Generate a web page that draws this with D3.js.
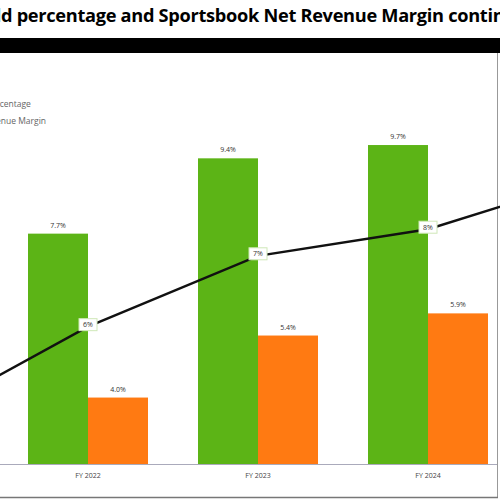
<!DOCTYPE html>
<html><head><meta charset="utf-8">
<script src="https://cdn.jsdelivr.net/npm/d3@7"></script>
<style>body{margin:0;background:#fff}svg{display:block}</style>
</head><body>
<svg id="c" width="500" height="500"></svg>
<script>
const title = "Sportsbook Hold percentage and Sportsbook Net Revenue Margin continue to improve";
const titleCut = "Sportsbook Hol";
const titleVisible = "d percentage and Sportsbook Net Revenue Margin continu";
const allCategories = ["FY 2021", "FY 2022", "FY 2023", "FY 2024", "FY 2025"];
const barCategories = ["FY 2022", "FY 2023", "FY 2024"];
const holdPct = [7.7, 9.4, 9.7];
const netRevMargin = [4.0, 5.4, 5.9];
const lineValues = [3.5, 5.6, 7.2, 7.8, 9.0];
const lineLabels = ["", "6%", "7%", "8%", ""];
const legendLabels = ["Sportsbook Hold percentage", "Sportsbook Net Revenue Margin"];

const svg = d3.select("#c");
const W = 500, H = 500;

function measure(txt, size) {
  const m = svg.append("text").attr("font-family", "Open Sans").attr("font-weight", "bold")
    .attr("font-size", size).attr("letter-spacing", -0.3).text(txt);
  const w = m.node().getComputedTextLength(); m.remove(); return w;
}
// title: scale so that the visible part spans the width, as in the reference crop
const tfs = 10 * 502 / measure(titleVisible, 10);
const cutW = measure(titleCut, tfs);
svg.append("text").attr("x", 1 - cutW).attr("y", 22)
  .attr("font-family", "Open Sans").attr("font-weight", "bold").attr("font-size", tfs)
  .attr("fill", "#000").attr("letter-spacing", -0.3).text(title);

svg.append("rect").attr("x", 0).attr("y", 38).attr("width", W).attr("height", 15).attr("fill", "#000");

// frame
svg.append("line").attr("x1", 497.5).attr("x2", 497.5).attr("y1", 53).attr("y2", 497).attr("stroke", "#999");
svg.append("line").attr("x1", 0).attr("x2", 498).attr("y1", 497.5).attr("y2", 497.5).attr("stroke", "#777").attr("stroke-width", 1.5);

const x = d3.scalePoint().domain(allCategories).range([-82, 598]);
const y = d3.scaleLinear().domain([2.5, 12.5]).range([464, 21]);
const bw = 60;

// legend
const lg = svg.append("g").attr("font-family", "Open Sans").attr("font-size", 8.5).attr("fill", "#666");
const tmp2 = lg.append("text").text(legendLabels[1]);
const lw = tmp2.node().getComputedTextLength(); tmp2.remove();
legendLabels.forEach((l, i) => {
  lg.append("text").attr("x", 46 - lw).attr("y", 107 + i * 17).text(l);
});

// baseline
svg.append("line").attr("x1", 0).attr("x2", 497).attr("y1", y(2.5) + 0.5).attr("y2", y(2.5) + 0.5)
  .attr("stroke", "#aab").attr("stroke-width", 1);

// bars
svg.append("g").selectAll("rect").data(barCategories).join("rect")
  .attr("x", d => x(d) - bw).attr("width", bw)
  .attr("y", (d, i) => y(holdPct[i])).attr("height", (d, i) => y(2.5) - y(holdPct[i]))
  .attr("fill", "#5cb416");
svg.append("g").selectAll("rect").data(barCategories).join("rect")
  .attr("x", d => x(d)).attr("width", bw)
  .attr("y", (d, i) => y(netRevMargin[i])).attr("height", (d, i) => y(2.5) - y(netRevMargin[i]))
  .attr("fill", "#ff7a12");

const fmt = d3.format(".1f");
const lab = svg.append("g").attr("font-family", "Open Sans").attr("font-size", 7).attr("fill", "#333").attr("text-anchor", "middle");
barCategories.forEach((c, i) => {
  lab.append("text").attr("x", x(c) - bw / 2).attr("y", y(holdPct[i]) - 6).text(fmt(holdPct[i]) + "%");
  lab.append("text").attr("x", x(c) + bw / 2).attr("y", y(netRevMargin[i]) - 6).text(fmt(netRevMargin[i]) + "%");
  lab.append("text").attr("x", x(c)).attr("y", 478).attr("fill", "#444").text(c);
});

// line
const line = d3.line().x((d, i) => x(allCategories[i])).y(d => y(d));
svg.append("path").datum(lineValues).attr("d", line).attr("fill", "none")
  .attr("stroke", "#111").attr("stroke-width", 2.4);

const ll = svg.append("g").attr("font-family", "Open Sans").attr("font-size", 7).attr("fill", "#333").attr("text-anchor", "middle");
lineValues.forEach((v, i) => {
  if (!lineLabels[i]) return;
  const cx = x(allCategories[i]), cy = y(v);
  ll.append("rect").attr("x", cx - 9).attr("y", cy - 8).attr("width", 18).attr("height", 12)
    .attr("fill", "#fff").attr("stroke", "#cfe8b8").attr("stroke-width", 1);
  ll.append("text").attr("x", cx).attr("y", cy + 0.5).text(lineLabels[i]);
});
</script>
</body></html>
